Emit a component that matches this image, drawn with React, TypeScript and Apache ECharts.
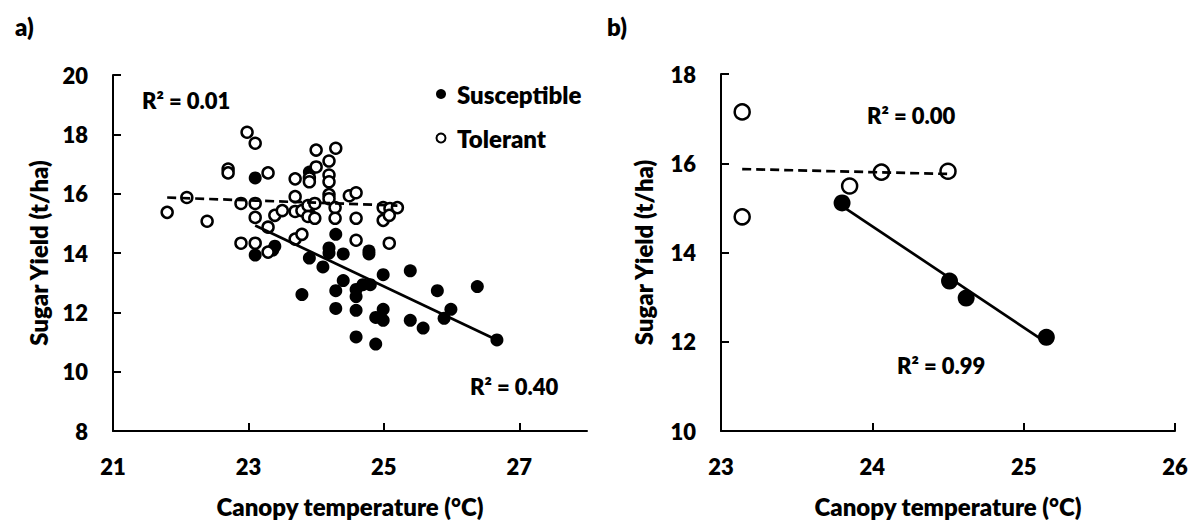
import React, { useEffect, useRef } from "react";
import * as echarts from "echarts";

// ---- Panel a data ----
const aSusX = [23.1, 23.1, 23.39, 23.36, 23.9, 23.9, 23.9, 23.92, 24.29, 24.19, 24.19, 24.4, 24.78, 24.78, 24.1, 24.99, 25.39, 24.4, 24.69, 24.8, 23.79, 24.29, 24.59, 24.59, 24.29, 24.59, 24.99, 24.88, 24.99, 24.59, 24.88, 25.79, 26.38, 25.39, 25.58, 25.99, 25.89, 26.67];
const aSusY = [16.53, 13.93, 14.23, 14.1, 13.83, 16.73, 15.55, 15.25, 14.63, 14.17, 14.0, 13.97, 14.07, 13.97, 13.53, 13.27, 13.4, 13.07, 12.93, 12.93, 12.6, 12.73, 12.77, 12.53, 12.13, 12.07, 12.1, 11.83, 11.73, 11.17, 10.93, 12.73, 12.87, 11.73, 11.47, 12.1, 11.8, 11.07];
const aTolX = [21.8, 22.09, 22.39, 22.7, 22.7, 22.98, 23.1, 23.29, 22.89, 23.1, 23.1, 23.39, 23.5, 23.29, 22.89, 23.1, 23.29, 23.69, 23.79, 23.69, 23.9, 23.9, 24.0, 24.0, 23.69, 23.69, 24.29, 24.19, 24.19, 24.19, 24.19, 24.19, 24.49, 24.59, 24.28, 24.28, 24.59, 24.99, 25.09, 25.2, 24.99, 25.08, 24.59, 25.08, 23.79, 23.88, 23.98, 23.88, 23.98];
const aTolY = [15.37, 15.87, 15.07, 16.83, 16.7, 18.07, 17.7, 16.7, 15.67, 15.67, 15.2, 15.27, 15.43, 14.87, 14.33, 14.33, 14.03, 14.47, 14.63, 16.5, 16.53, 16.4, 17.47, 16.9, 15.9, 15.4, 17.53, 17.1, 16.63, 16.4, 15.97, 15.83, 15.93, 16.03, 15.53, 15.17, 15.17, 15.53, 15.5, 15.53, 15.1, 15.27, 14.43, 14.33, 15.43, 15.6, 15.67, 15.23, 15.17];
const aSusTrendX = [23.1, 26.67];
const aSusTrendY = [14.93, 11.07];
const aTolTrendX = [21.8, 25.2];
const aTolTrendY = [15.87, 15.6];

// ---- Panel b data ----
const bSusX = [23.8, 24.51, 24.62, 25.15];
const bSusY = [15.11, 13.36, 12.98, 12.1];
const bTolX = [23.14, 23.14, 23.85, 24.06, 24.5];
const bTolY = [17.15, 14.8, 15.49, 15.8, 15.82];
const bSusTrendX = [23.8, 25.15];
const bSusTrendY = [15.04, 11.98];
const bTolTrendX = [23.14, 24.5];
const bTolTrendY = [15.87, 15.76];

const aXTicks = [21, 23, 25, 27];
const bXTicks = [23, 24, 25, 26];

const FONT = "Lato, Carlito, Calibri, sans-serif";
const W = 800;
const pairs = (xs: number[], ys: number[]) => xs.map((x, i) => [x, ys[i]]);

const tick = { fontFamily: FONT, fontWeight: W, fontSize: 22, color: "#000" };
const title = { fontFamily: FONT, fontWeight: W, fontSize: 24, color: "#000" };

function xAxisCfg(grid: number, min: number, max: number, interval: number, ticks: number[]) {
  return {
    type: "value", gridIndex: grid, min, max, interval,
    axisLine: { show: true, lineStyle: { color: "#000", width: 2 } },
    axisTick: { show: true, inside: true, length: 8, lineStyle: { color: "#000", width: 2 }, customValues: ticks },
    axisLabel: { ...tick, margin: 24, customValues: ticks },
    splitLine: { show: false },
    name: "Canopy temperature (°C)", nameLocation: "middle", nameGap: 63,
    nameTextStyle: { ...title },
  };
}
function yAxisCfg(grid: number, min: number, max: number, interval: number, gap: number) {
  return {
    type: "value", gridIndex: grid, min, max, interval,
    axisLine: { show: true, lineStyle: { color: "#000", width: 2 } },
    axisTick: { show: true, inside: true, length: 8, lineStyle: { color: "#000", width: 2 } },
    axisLabel: { ...tick, margin: 25 },
    splitLine: { show: false },
    name: "Sugar Yield (t/ha)", nameLocation: "middle", nameGap: gap,
    nameTextStyle: { ...title },
  };
}

export default function App() {
  const ref = useRef<HTMLDivElement>(null);
  useEffect(() => {
    if (!ref.current) return;
    const chart = echarts.init(ref.current, null, { renderer: "svg" });
    const openStyle = { color: "#fff", borderColor: "#000", borderWidth: 2.5, opacity: 1 };
    const fillStyle = { color: "#000", opacity: 1 };
    const f22 = `${W} 22px ${FONT}`;
    const f24 = `${W} 24px ${FONT}`;
    chart.setOption({
      animation: false,
      backgroundColor: "#fff",
      grid: [
        { left: 113, top: 75, width: 474, height: 360 },
        { left: 721, top: 74, width: 454, height: 360 },
      ],
      xAxis: [xAxisCfg(0, 21, 28, 2, aXTicks), xAxisCfg(1, 23, 26, 1, bXTicks)],
      yAxis: [yAxisCfg(0, 8, 20, 2, 63), yAxisCfg(1, 10, 18, 2, 66)],
      series: [
        { type: "scatter", xAxisIndex: 0, yAxisIndex: 0, data: pairs(aSusX, aSusY), symbol: "circle", symbolSize: 13, itemStyle: fillStyle },
        { type: "scatter", xAxisIndex: 0, yAxisIndex: 0, data: pairs(aTolX, aTolY), symbol: "circle", symbolSize: 11, itemStyle: openStyle },
        { type: "line", xAxisIndex: 0, yAxisIndex: 0, data: pairs(aSusTrendX, aSusTrendY), showSymbol: false, lineStyle: { color: "#000", width: 2.7 } },
        { type: "line", xAxisIndex: 0, yAxisIndex: 0, data: pairs(aTolTrendX, aTolTrendY), showSymbol: false, lineStyle: { color: "#000", width: 2.7, type: [9, 5] } },
        { type: "scatter", xAxisIndex: 1, yAxisIndex: 1, data: pairs(bSusX, bSusY), symbol: "circle", symbolSize: 17, itemStyle: fillStyle },
        { type: "scatter", xAxisIndex: 1, yAxisIndex: 1, data: pairs(bTolX, bTolY), symbol: "circle", symbolSize: 15, itemStyle: openStyle },
        { type: "line", xAxisIndex: 1, yAxisIndex: 1, data: pairs(bSusTrendX, bSusTrendY), showSymbol: false, lineStyle: { color: "#000", width: 2.7 } },
        { type: "line", xAxisIndex: 1, yAxisIndex: 1, data: pairs(bTolTrendX, bTolTrendY), showSymbol: false, lineStyle: { color: "#000", width: 2.7, type: [9, 5] } },
      ],
      graphic: [
        { type: "text", left: 15, top: 14, style: { text: "a)", font: f24, fill: "#000" } },
        { type: "text", left: 607, top: 14, style: { text: "b)", font: f24, fill: "#000" } },
        { type: "text", x: 142, y: 100, style: { text: "R² = 0.01", font: f22, fill: "#000", verticalAlign: "middle" } },
        { type: "text", x: 470, y: 386, style: { text: "R² = 0.40", font: f22, fill: "#000", verticalAlign: "middle" } },
        { type: "text", x: 867, y: 115, style: { text: "R² = 0.00", font: f22, fill: "#000", verticalAlign: "middle" } },
        { type: "text", x: 897, y: 365, style: { text: "R² = 0.99", font: f22, fill: "#000", verticalAlign: "middle" } },
        { type: "circle", shape: { cx: 441, cy: 94, r: 5 }, style: { fill: "#000" } },
        { type: "text", x: 457, y: 94, style: { text: "Susceptible", font: f24, fill: "#000", verticalAlign: "middle" } },
        { type: "circle", shape: { cx: 441, cy: 138, r: 4.5 }, style: { fill: "#fff", stroke: "#000", lineWidth: 2 } },
        { type: "text", x: 457, y: 138, style: { text: "Tolerant", font: f24, fill: "#000", verticalAlign: "middle" } },
      ],
    });
    return () => chart.dispose();
  }, []);
  return <div ref={ref} style={{ position: "fixed", left: 0, top: 0, width: 1193, height: 523, background: "#fff" }} />;
}
